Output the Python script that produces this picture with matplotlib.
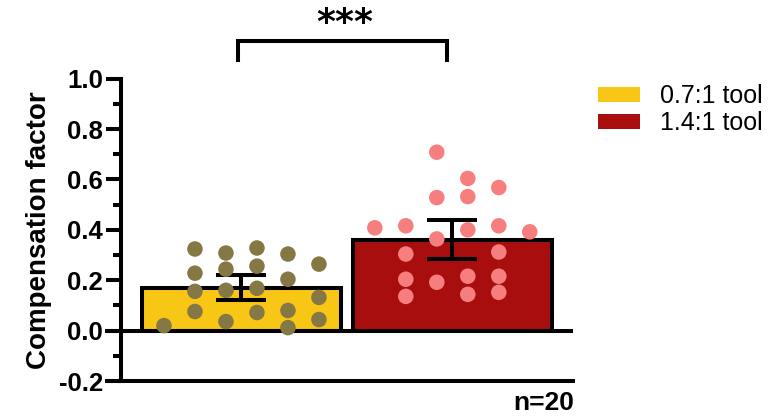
import numpy as np
import matplotlib
matplotlib.use("Agg")
import matplotlib.pyplot as plt
import matplotlib.transforms as mtransforms
from matplotlib.patches import Patch

plt.rcParams['font.family'] = ['Liberation Sans', 'DejaVu Sans']

groups = ["0.7:1 tool", "1.4:1 tool"]
means = [0.171, 0.361]
errors = [0.051, 0.077]
bar_colors = ["#F8C614", "#A80E0E"]
dot_colors = ["#867845", "#F77E7E"]

# individual subjects: horizontal column index within the bar and value
low_cols = [0, 1, 1, 1, 1, 2, 2, 2, 2, 3, 3, 3, 3, 4, 4, 4, 4, 5, 5, 5]
low_vals = [0.020, 0.324, 0.228, 0.156, 0.076, 0.308, 0.244, 0.160, 0.036,
            0.328, 0.256, 0.168, 0.072, 0.304, 0.204, 0.080, 0.012,
            0.264, 0.132, 0.044]
high_cols = [0, 1, 1, 1, 1, 2, 2, 2, 2, 3, 3, 3, 3, 3, 4, 4, 4, 4, 4, 5]
high_vals = [0.408, 0.416, 0.304, 0.204, 0.136, 0.708, 0.528, 0.364, 0.192,
             0.604, 0.532, 0.400, 0.216, 0.144, 0.568, 0.416, 0.312, 0.216,
             0.152, 0.392]
n_label = "n=20"
sig_label = "***"

fig = plt.figure(figsize=(7.76, 4.16), dpi=100)
ax = fig.add_axes([0.156, 0.084, 0.582, 0.727])

x = np.arange(len(groups))
lw = 2.9
ax.bar(x, means, width=0.943, color=bar_colors, edgecolor="black",
       linewidth=lw, zorder=2)
ax.errorbar(x, means, yerr=errors, fmt="none", ecolor="black",
            elinewidth=lw, capsize=18, capthick=lw, zorder=3)

col_step = 0.147
for xi, cols, vals, c in [(0, low_cols, low_vals, dot_colors[0]),
                          (1, high_cols, high_vals, dot_colors[1])]:
    xs = xi + (np.array(cols) - 2.5) * col_step
    ax.scatter(xs, vals, s=125, color=c, edgecolors="none", zorder=4,
               clip_on=False)

ax.set_xlim(-0.571, 1.571)
ax.set_ylim(-0.2, 1.0)
ticks = np.arange(-0.2, 1.01, 0.2)
ax.set_yticks(ticks)
ax.set_yticklabels([f"{v:.1f}" for v in ticks])
ax.set_yticks(np.arange(-0.1, 1.0, 0.2), minor=True)
ax.tick_params(axis="y", which="major", length=11, width=lw, labelsize=18.5,
               pad=2)
ax.tick_params(axis="y", which="minor", length=6, width=lw)
for lab in ax.get_yticklabels():
    lab.set_fontweight("bold")
ax.set_xticks([])

for side in ["top", "right"]:
    ax.spines[side].set_visible(False)
ax.spines["left"].set_linewidth(lw)
ax.spines["bottom"].set_linewidth(lw)

# zero line across the plot, extending left like a tick
trans = mtransforms.blended_transform_factory(ax.transAxes, ax.transData)
ax.plot([-0.035, 1.0], [0, 0], transform=trans, color="black", lw=lw,
        clip_on=False, zorder=2.5, solid_capstyle="butt")
ax.plot([-0.035, 0.0], [-0.2, -0.2], transform=trans, color="black", lw=lw,
        clip_on=False, solid_capstyle="butt")

ax.set_ylabel("Compensation factor", fontsize=20, fontweight="bold",
              labelpad=5)

# significance bracket
by = 1.148
ax.plot([x[0] - 0.017, x[0] - 0.017, x[1] - 0.027, x[1] - 0.027],
        [by - 0.075, by, by, by - 0.075], color="black", lw=lw,
        clip_on=False, solid_joinstyle="miter")
ax.text((x[0] + x[1]) / 2 - 0.01, 1.29, sig_label, ha="center",
        va="top", fontsize=26, fontweight="heavy", clip_on=False,
        family="DejaVu Sans")

ax.text(1.003, -0.24, n_label, transform=trans, ha="right", va="top",
        fontsize=19, fontweight="bold")

handles = [Patch(facecolor=c, edgecolor="none") for c in bar_colors]
fig.legend(handles, groups, loc="upper left", bbox_to_anchor=(0.748, 0.84),
           frameon=False, fontsize=18, handlelength=1.7, handleheight=0.55,
           handletextpad=0.8, labelspacing=0.12, borderpad=0.2)

fig.savefig("out.png", dpi=100)
